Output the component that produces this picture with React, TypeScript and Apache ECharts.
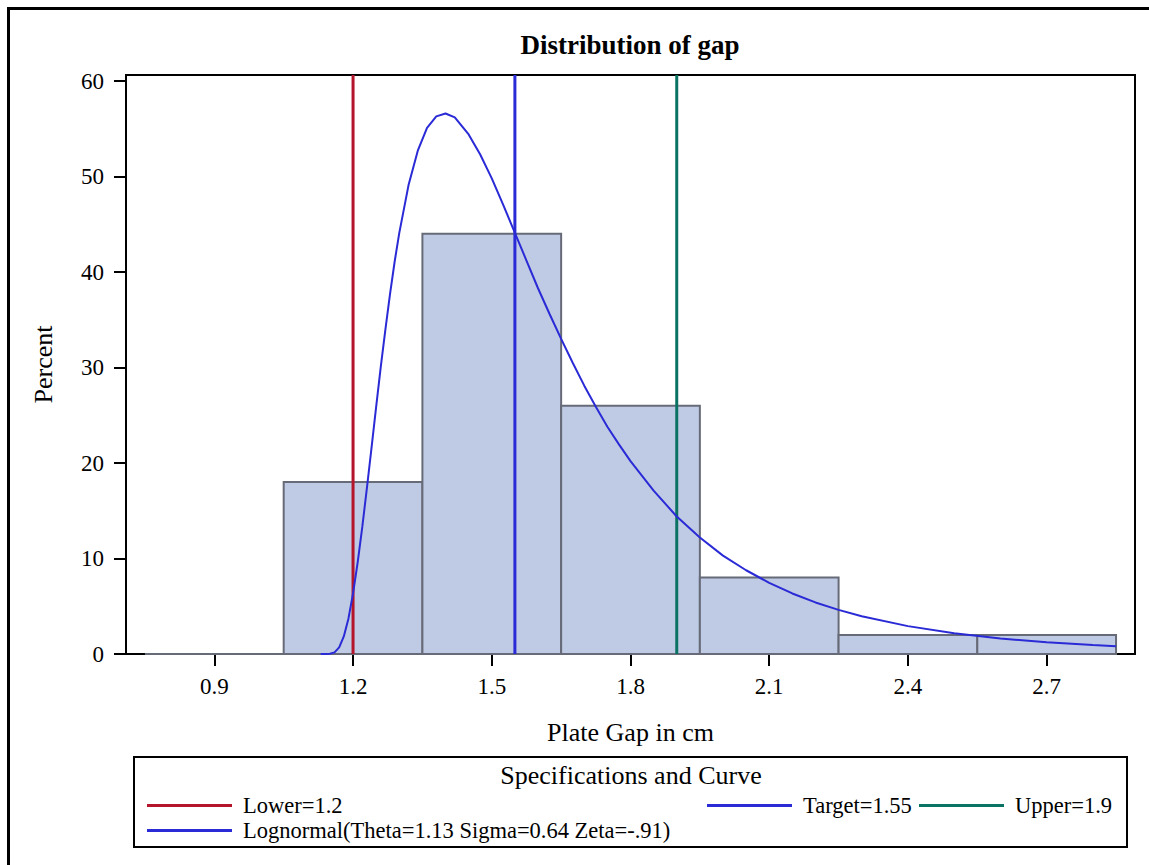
import React, { useEffect, useRef } from "react";
import * as echarts from "echarts";

const FONT = '"Liberation Serif", "Times New Roman", serif';

// Histogram bins (edges in cm) and percent per bin
const binEdges = [0.75, 1.05, 1.35, 1.65, 1.95, 2.25, 2.55, 2.85];
const binPercents = [0, 18, 44, 26, 8, 2, 2];

// Fitted lognormal curve (percent scale)
const curveX = [1.13, 1.14, 1.15, 1.16, 1.17, 1.18, 1.19, 1.2, 1.21, 1.22, 1.23, 1.24, 1.25, 1.26, 1.27, 1.28, 1.29, 1.3, 1.32, 1.34, 1.36, 1.38, 1.4, 1.42, 1.45, 1.475, 1.5, 1.525, 1.55, 1.575, 1.6, 1.625, 1.65, 1.675, 1.7, 1.725, 1.75, 1.775, 1.8, 1.85, 1.9, 1.95, 2.0, 2.05, 2.1, 2.15, 2.2, 2.25, 2.3, 2.4, 2.5, 2.6, 2.7, 2.8, 2.85];
const curveY = [0, 0, 0.02, 0.17, 0.7, 1.84, 3.7, 6.35, 9.6, 13.3, 17.4, 21.6, 25.9, 30.1, 34.0, 37.7, 41.1, 44.1, 49.1, 52.7, 55.1, 56.3, 56.6, 56.2, 54.4, 52.3, 49.8, 47.0, 44.1, 41.2, 38.3, 35.6, 33.0, 30.5, 28.1, 25.9, 23.8, 21.95, 20.2, 17.1, 14.4, 12.2, 10.3, 8.77, 7.45, 6.34, 5.4, 4.62, 3.95, 2.92, 2.17, 1.63, 1.23, 0.94, 0.82];

// Specification lines
const specNames = ["Lower=1.2", "Target=1.55", "Upper=1.9"];
const specValues = [1.2, 1.55, 1.9];
const specColors = ["#b5152b", "#2a2ad6", "#0b7363"];
const curveName = "Lognormal(Theta=1.13 Sigma=0.64 Zeta=-.91)";

const xTicks = [0.9, 1.2, 1.5, 1.8, 2.1, 2.4, 2.7];
const yTicks = [0, 10, 20, 30, 40, 50, 60];

const X_MIN = 0.709;
const X_MAX = 2.891;
const Y_MIN = 0;
const Y_MAX = 60.63;

export default function App() {
  const ref = useRef<HTMLDivElement>(null);
  useEffect(() => {
    document.body.style.margin = "0";
    const chart = echarts.init(ref.current!, null, { renderer: "svg" });
    const bins = binPercents.map((v, i) => [binEdges[i], binEdges[i + 1], v]);
    const curve = curveX.map((x, i) => [x, curveY[i]]);

    const legendBase = {
      orient: "horizontal",
      icon: "rect",
      itemWidth: 85,
      itemHeight: 3,
      textStyle: { fontFamily: FONT, fontSize: 22.5, color: "#000", padding: [0, 0, 0, 6], lineHeight: 23 },
    };

    const option: any = {
      animation: false,
      backgroundColor: "#fff",
      textStyle: { fontFamily: FONT },
      title: {
        text: "Distribution of gap",
        left: 625,
        top: 26,
        textAlign: "center",
        textStyle: { fontFamily: FONT, fontSize: 27, fontWeight: "bold", color: "#000" },
      },
      grid: {
        left: 126,
        right: 14,
        top: 75,
        bottom: 211,
        show: true,
        borderColor: "#000",
        borderWidth: 2,
        backgroundColor: "transparent",
      },
      legend: [
        { ...legendBase, data: [specNames[0]], left: 142, top: 789 },
        { ...legendBase, data: [specNames[1]], left: 702, top: 789 },
        { ...legendBase, data: [specNames[2]], left: 914, top: 789 },
        { ...legendBase, data: [curveName], left: 142, top: 814 },
      ],
      xAxis: {
        type: "value",
        min: X_MIN,
        max: X_MAX,
        name: "Plate Gap in cm",
        nameLocation: "middle",
        nameGap: 65,
        nameTextStyle: { fontFamily: FONT, fontSize: 26, color: "#000" },
        axisLine: { show: true, lineStyle: { color: "#000", width: 2 } },
        axisTick: { show: true, length: 12, lineStyle: { color: "#000", width: 2 }, customValues: xTicks },
        axisLabel: {
          customValues: xTicks,
          margin: 21,
          fontFamily: FONT,
          fontSize: 23,
          color: "#000",
          formatter: (v: number) => v.toFixed(1),
        },
        splitLine: { show: false },
      },
      yAxis: {
        type: "value",
        min: Y_MIN,
        max: Y_MAX,
        name: "Percent",
        nameLocation: "middle",
        nameGap: 70,
        nameTextStyle: { fontFamily: FONT, fontSize: 26, color: "#000" },
        axisLine: { show: true, lineStyle: { color: "#000", width: 2 } },
        axisTick: { show: true, length: 12, lineStyle: { color: "#000", width: 2 }, customValues: yTicks },
        axisLabel: { customValues: yTicks, margin: 22, fontFamily: FONT, fontSize: 23, color: "#000" },
        splitLine: { show: false },
      },
      series: [
        {
          type: "custom",
          name: "Histogram",
          data: bins,
          encode: { x: [0, 1], y: 2 },
          z: 1,
          renderItem: (params: any, api: any) => {
            const lo = api.value(0);
            const hi = api.value(1);
            const v = api.value(2);
            const p1 = api.coord([lo, v]);
            const p2 = api.coord([hi, 0]);
            return {
              type: "rect",
              shape: { x: p1[0], y: p1[1], width: p2[0] - p1[0], height: p2[1] - p1[1] },
              style: { fill: "#bfcbe4", stroke: "#676b78", lineWidth: 2 },
            };
          },
        },
        ...specNames.map((n, i) => ({
          type: "line",
          name: n,
          data: [
            [specValues[i], Y_MIN],
            [specValues[i], Y_MAX],
          ],
          showSymbol: false,
          symbol: "none",
          color: specColors[i],
          lineStyle: { color: specColors[i], width: 3 },
          z: 3,
        })),
        {
          type: "line",
          name: curveName,
          data: curve,
          showSymbol: false,
          symbol: "none",
          smooth: false,
          color: "#2a2ad6",
          lineStyle: { color: "#2a2ad6", width: 2 },
          z: 4,
        },
      ],
      graphic: [
        {
          type: "rect",
          left: 6,
          top: 6,
          shape: { width: 1160, height: 870 },
          style: { fill: "none", stroke: "#000", lineWidth: 3 },
          silent: true,
        },
        {
          type: "rect",
          shape: { x: 134, y: 757, width: 993, height: 90 },
          style: { fill: "none", stroke: "#000", lineWidth: 2 },
          silent: true,
        },
        {
          type: "text",
          x: 631,
          y: 775,
          style: {
            text: "Specifications and Curve",
            fontFamily: FONT,
            fontSize: 26,
            fill: "#000",
            textAlign: "center",
            textVerticalAlign: "middle",
          },
          silent: true,
        },
      ],
    };
    chart.setOption(option);
    return () => chart.dispose();
  }, []);
  return <div ref={ref} style={{ position: "fixed", left: 0, top: 0, width: 1149, height: 865 }} />;
}
